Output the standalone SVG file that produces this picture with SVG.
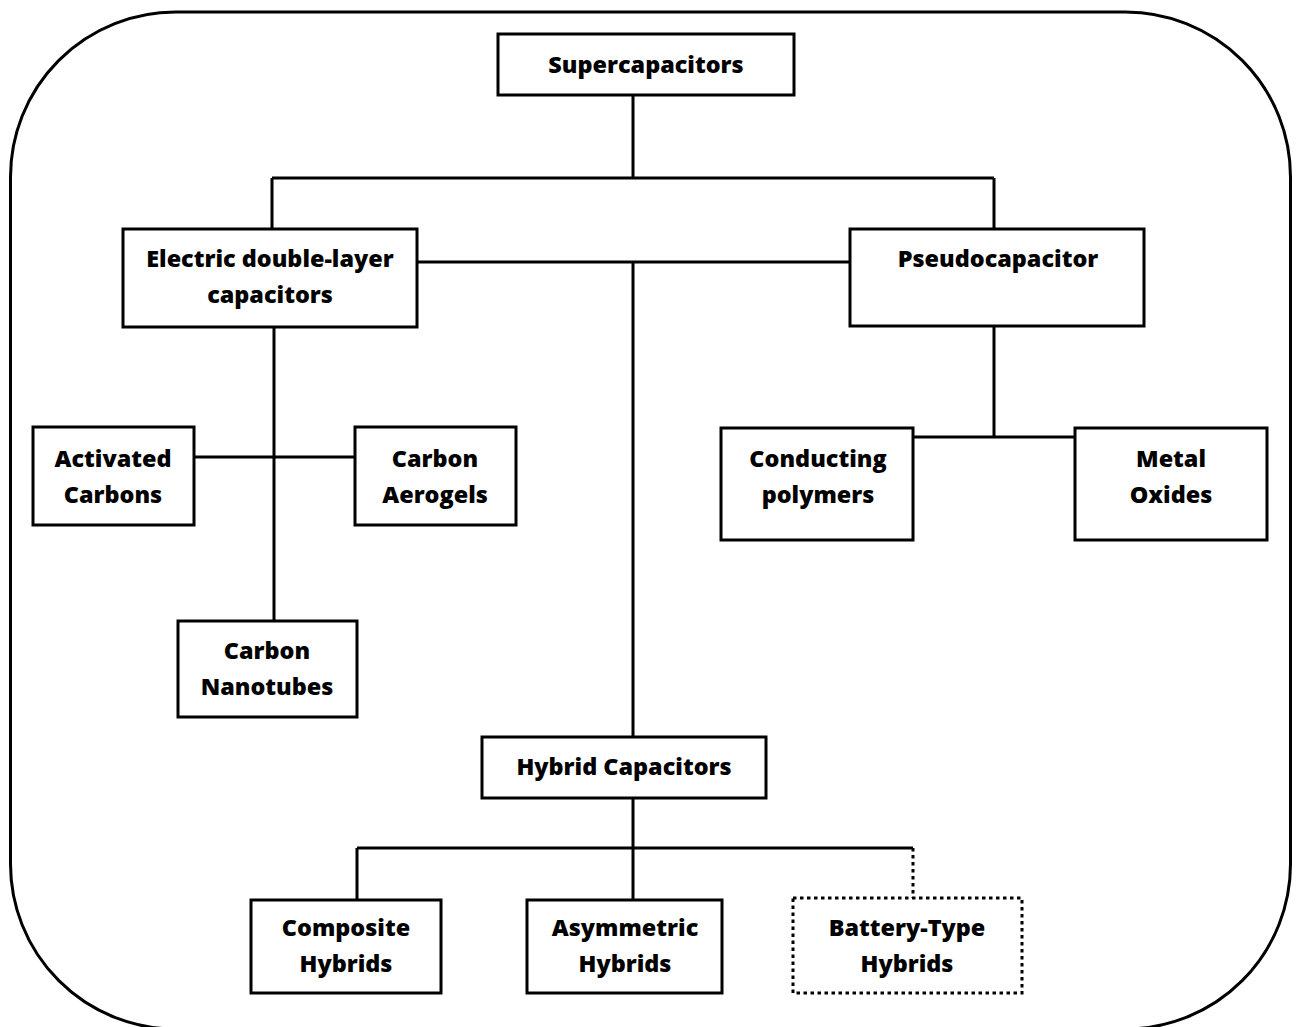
<svg xmlns="http://www.w3.org/2000/svg" width="1297" height="1027" viewBox="0 0 1297 1027">
<style>
.box{fill:#fff;stroke:#000;stroke-width:3}
.dot{fill:#fff;stroke:#000;stroke-width:3;stroke-dasharray:3.5 3.5}
.ln{fill:none;stroke:#000;stroke-width:3}
.dl{fill:none;stroke:#000;stroke-width:3;stroke-dasharray:3.5 3.5}
text{font-family:"Open Sans","Liberation Sans",sans-serif;font-weight:800;font-size:23.4px;text-anchor:middle;fill:#000}
</style>
<rect x="0" y="0" width="1297" height="1027" fill="#fff"/>
<rect x="10.5" y="12" width="1280" height="1017" rx="165" ry="165" fill="none" stroke="#000" stroke-width="3"/>
<g id="connectors">
<path class="ln" d="M633 95V178M272 178H994M272 178V229M994 178V229"/>
<path class="ln" d="M417 262H850M633 262V737"/>
<path class="ln" d="M274 327V621M194 457H355"/>
<path class="ln" d="M994 326V437M913 437H1075"/>
<path class="ln" d="M633 798V848M357 848H913M357 848V900M633 848V900"/>
<path class="dl" d="M913 848V898"/>
</g>
<g id="supercapacitors"><rect class="box" x="498" y="34" width="296" height="61"/><text x="646" y="73">Supercapacitors</text></g>
<g id="edlc"><rect class="box" x="123" y="229" width="294" height="98"/><text x="270" y="267">Electric double-layer</text><text x="270" y="303">capacitors</text></g>
<g id="pseudocapacitor"><rect class="box" x="850" y="229" width="294" height="97"/><text x="998" y="267">Pseudocapacitor</text></g>
<g id="activated-carbons"><rect class="box" x="33" y="427" width="161" height="98"/><text x="113" y="467">Activated</text><text x="113" y="503">Carbons</text></g>
<g id="carbon-aerogels"><rect class="box" x="355" y="427" width="161" height="98"/><text x="435" y="467">Carbon</text><text x="435" y="503">Aerogels</text></g>
<g id="carbon-nanotubes"><rect class="box" x="178" y="621" width="179" height="96"/><text x="267" y="659">Carbon</text><text x="267" y="695">Nanotubes</text></g>
<g id="conducting-polymers"><rect class="box" x="721" y="428" width="192" height="112"/><text x="818" y="467">Conducting</text><text x="818" y="503">polymers</text></g>
<g id="metal-oxides"><rect class="box" x="1075" y="428" width="192" height="112"/><text x="1171" y="467">Metal</text><text x="1171" y="503">Oxides</text></g>
<g id="hybrid-capacitors"><rect class="box" x="482" y="737" width="284" height="61"/><text x="624" y="775">Hybrid Capacitors</text></g>
<g id="composite-hybrids"><rect class="box" x="251" y="900" width="190" height="93"/><text x="346" y="936">Composite</text><text x="346" y="972">Hybrids</text></g>
<g id="asymmetric-hybrids"><rect class="box" x="527" y="900" width="195" height="93"/><text x="625" y="936">Asymmetric</text><text x="625" y="972">Hybrids</text></g>
<g id="battery-type-hybrids"><rect class="dot" x="793" y="898" width="229" height="95"/><text x="907" y="936">Battery-Type</text><text x="907" y="972">Hybrids</text></g>
</svg>
